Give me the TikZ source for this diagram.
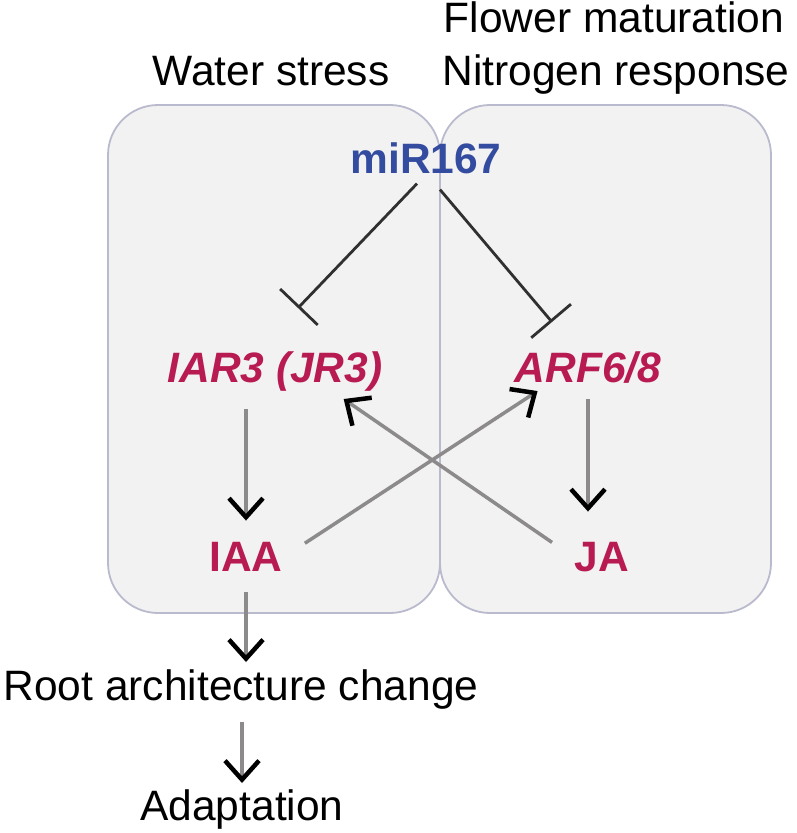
\documentclass[tikz,border=0pt]{standalone}
\usepackage{fontspec}
\setmainfont{Liberation Sans}
\usetikzlibrary{arrows.meta}
\definecolor{boxfill}{RGB}{242,242,242}
\definecolor{boxline}{RGB}{186,186,206}
\definecolor{mirblue}{RGB}{52,76,160}
\definecolor{genered}{RGB}{184,26,82}
\definecolor{shaft}{RGB}{140,138,138}
\definecolor{inhib}{RGB}{48,48,48}
\begin{document}
\begin{tikzpicture}[x=1pt, y=-1pt,
        every node/.style={inner sep=2pt, font=\fontsize{42.5}{50}\selectfont},
        region/.style={draw=boxline, line width=1.8pt, fill=boxfill, rounded corners=50pt,
            minimum width=332pt, minimum height=508pt},
        txt/.style={anchor=base},
        gene/.style={anchor=base, text=genered, font=\fontsize{42.5}{50}\selectfont\bfseries\itshape},
        hormone/.style={anchor=base, text=genered, font=\fontsize{42.5}{50}\selectfont\bfseries},
        act/.style={draw=shaft, line width=3.5pt,
            -{Straight Barb[color=black, length=19pt, width=34pt, line width=4.5pt]}},
        repress/.style={draw=inhib, line width=2.8pt, -{Bar[width=52pt, line width=2.8pt]}}]
    \useasboundingbox (0,0) rectangle (797,833);

    % the two regions
    \node[region] (leftbox) at (274,359) {};
    \node[region, minimum width=331pt] (rightbox) at (605.5,359) {};

    % conditions above the regions
    \node[txt] (water) at (271,85) {Water stress};
    \node[txt] (flower) at (614,32) {Flower maturation};
    \node[txt] (nitro) at (616,85) {Nitrogen response};

    % players
    \node[anchor=base, text=mirblue, font=\fontsize{42.5}{50}\selectfont\bfseries] (mir) at (426,173) {miR167};
    \node[gene] (iar) at (275,382) {IAR3 (JR3)};
    \node[gene] (arf) at (588,382) {ARF6/8};
    \node[hormone] (iaa) at (246,571) {IAA};
    \node[hormone] (ja) at (602,571) {JA};
    \node[txt] (root) at (241,700) {Root architecture change};
    \node[txt] (adapt) at (242,820) {Adaptation};

    % repression by miR167
    \draw[repress] ([xshift=-9pt,yshift=-8pt]mir.south) -- ([xshift=23pt,yshift=41pt]iar.north);
    \draw[repress] ([xshift=14pt,yshift=-14pt]mir.south) -- ([xshift=-36pt,yshift=27pt]arf.north);

    % activation
    \draw[act, shorten <=16pt, shorten >=19pt] (iar.south -| iaa.north) -- (iaa.north);
    \draw[act, shorten <=14pt, shorten >=28pt] (arf.south) -- (arf.south |- ja.north);
    \draw[act, shorten <=24pt] (iaa.east) -- ([xshift=25pt,yshift=-6pt]arf.south west);
    \draw[act, shorten <=25pt] (ja.west) -- ([xshift=-41pt,yshift=-6pt]iar.south east);
    \draw[act, shorten <=19pt, shorten >=5pt] (iaa.south) -- (iaa.south |- root.north);
    \draw[act, shorten <=11pt, shorten >=4pt] (root.south -| adapt.north) -- (adapt.north);
\end{tikzpicture}
\end{document}
